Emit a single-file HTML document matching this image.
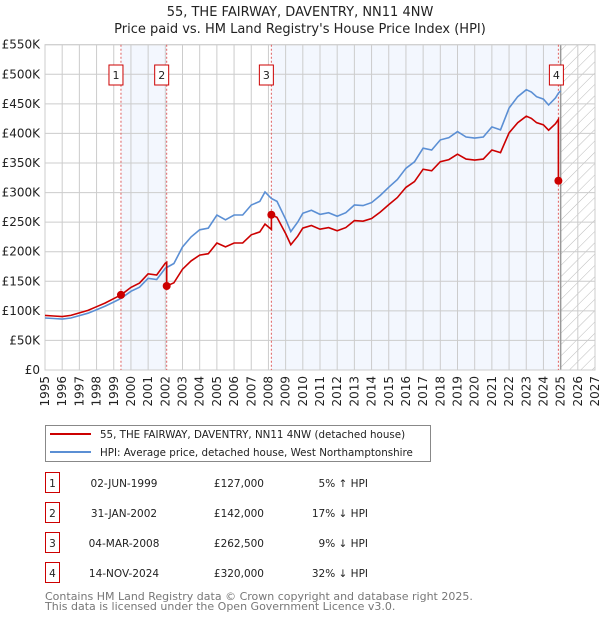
<!DOCTYPE html>
<html><head><meta charset="utf-8"><style>
body{margin:0;background:#fff;font-family:"DejaVu Sans","Liberation Sans",sans-serif;}
svg{display:block}
</style></head><body>
<svg id="chart" width="600" height="620" xmlns="http://www.w3.org/2000/svg" font-family="DejaVu Sans, Liberation Sans, sans-serif"></svg>
<script>
const hpiYears=[1995,1995.5,1996,1996.5,1997,1997.5,1998,1998.5,1999,1999.42,2000,2000.5,2001,2001.5,2002,2002.5,2003,2003.5,2004,2004.5,2005,2005.5,2006,2006.5,2007,2007.5,2007.8,2008.17,2008.5,2009,2009.3,2009.7,2010,2010.5,2011,2011.5,2012,2012.5,2013,2013.5,2014,2014.5,2015,2015.5,2016,2016.5,2017,2017.5,2018,2018.5,2019,2019.5,2020,2020.5,2021,2021.5,2022,2022.5,2023,2023.3,2023.6,2024,2024.3,2024.7,2024.87,2025];
const hpiValues=[88,87,86,88,92,96,102,108,115,121,133,140,155,153,172,180,208,225,237,240,262,254,262,262,279,285,301,290,285,255,234,250,265,270,263,266,260,266,279,278,283,295,309,322,341,352,375,372,389,393,403,394,392,394,411,406,443,462,474,470,462,458,448,460,468,472];
const saleLabels=["1","2","3","4"];
const saleYears=[1999.42,2002.08,2008.17,2024.87];
const salePrices=[127000,142000,262500,320000];
const saleDates=["02-JUN-1999","31-JAN-2002","04-MAR-2008","14-NOV-2024"];
const salePriceText=["£127,000","£142,000","£262,500","£320,000"];
const saleHpiText=["5% ↑ HPI","17% ↓ HPI","9% ↓ HPI","32% ↓ HPI"];
const yTicks=[0,50,100,150,200,250,300,350,400,450,500,550];

const svg=document.getElementById('chart');
const NS='http://www.w3.org/2000/svg';
const X0=45,X1=595,Y0=370,Y1=44.7,YMIN=1995,YMAX=2027,VMAX=550;
const xs=y=>X0+(y-YMIN)/(YMAX-YMIN)*(X1-X0);
const ys=v=>Y0-v/VMAX*(Y0-Y1);
function mk(tag,attrs,parent){const e=document.createElementNS(NS,tag);for(const k in attrs)e.setAttribute(k,attrs[k]);(parent||svg).appendChild(e);return e;}
function hpiAt(t){for(let i=0;i<hpiYears.length-1;i++){if(t>=hpiYears[i]&&t<=hpiYears[i+1]){const f=(t-hpiYears[i])/(hpiYears[i+1]-hpiYears[i]);return hpiValues[i]+f*(hpiValues[i+1]-hpiValues[i]);}}return hpiValues[hpiValues.length-1];}

let t=mk('text',{x:300,y:16,'text-anchor':'middle','font-size':13,fill:'#222'});t.textContent='55, THE FAIRWAY, DAVENTRY, NN11 4NW';

t=mk('text',{x:300,y:33,'text-anchor':'middle','font-size':13,fill:'#222'});t.textContent="Price paid vs. HM Land Registry's House Price Index (HPI)";


const defs=mk('defs',{});
const pat=mk('pattern',{id:'hatch',patternUnits:'userSpaceOnUse',width:8,height:8,patternTransform:'rotate(45)'},defs);
mk('line',{x1:0,y1:0,x2:0,y2:8,stroke:'#bbb','stroke-width':1},pat);

for(let i=0;i<saleYears.length-1;i+=2){
  const r=mk('rect',{x:xs(saleYears[i]),y:Y1,width:xs(saleYears[i+1])-xs(saleYears[i]),height:Y0-Y1,fill:'#f3f7fe'});
  
}
const fb=mk('rect',{x:xs(2025),y:Y1,width:X1-xs(2025),height:Y0-Y1,fill:'url(#hatch)'});


for(const v of yTicks){
  const l=mk('line',{x1:X0,x2:X1,y1:ys(v),y2:ys(v),stroke:'#ccc','stroke-width':1});
  
  const tx=mk('text',{x:X0-5,y:ys(v)+4,'text-anchor':'end','font-size':12,fill:'#222'});
  tx.textContent=v===0?'£0':'£'+v+'K';
  
}
for(let yr=YMIN;yr<=YMAX;yr++){
  const l=mk('line',{x1:xs(yr),x2:xs(yr),y1:Y1,y2:Y0,stroke:'#ccc','stroke-width':1});
  
  const tx=mk('text',{x:0,y:0,'text-anchor':'end','font-size':12,fill:'#222',transform:`translate(${xs(yr)+4},${Y0+6}) rotate(-90)`});
  tx.textContent=yr;
  
}
mk('line',{x1:xs(2025),x2:xs(2025),y1:Y1,y2:Y0,stroke:'#999','stroke-width':1.5});
const border=mk('rect',{x:X0,y:Y1,width:X1-X0,height:Y0-Y1,fill:'none',stroke:'#ccc'});


saleYears.forEach((sy,i)=>{
  const l=mk('line',{x1:xs(sy),x2:xs(sy),y1:Y1,y2:Y0,stroke:'#e06060','stroke-width':1,'stroke-dasharray':'2,2'});
  
  const g=mk('g',{});
  
  const bx=i===3?xs(sy)-9:xs(sy)-12;
  mk('rect',{x:bx,y:65,width:14,height:20,fill:'#fff',stroke:'#c00','stroke-width':1},g);
  const tx=mk('text',{x:bx+7,y:79,'text-anchor':'middle','font-size':11,fill:'#222'},g);tx.textContent=saleLabels[i];
});

let d='';hpiYears.forEach((y,i)=>{d+=(i?'L':'M')+xs(y).toFixed(1)+','+ys(hpiValues[i]).toFixed(1);});
const hl=mk('path',{d,fill:'none',stroke:'#5b8fd4','stroke-width':1.6});


const ratios=saleYears.map((sy,i)=>salePrices[i]/1000/hpiAt(sy));
const pts=[];
const allT=[...new Set([...hpiYears.filter(y=>y<=saleYears[3]),...saleYears])].sort((a,b)=>a-b);
for(const tt of allT){
  let k=-1;for(let i=0;i<saleYears.length;i++)if(tt>=saleYears[i])k=i;
  if(saleYears.includes(tt)&&k>0){pts.push([tt,hpiAt(tt)*ratios[k-1]]);}
  const r=k<0?ratios[0]:ratios[k];
  pts.push([tt,hpiAt(tt)*r]);
}
d='';pts.forEach((p,i)=>{d+=(i?'L':'M')+xs(p[0]).toFixed(1)+','+ys(p[1]).toFixed(1);});
const pl=mk('path',{d,fill:'none',stroke:'#cc0000','stroke-width':1.6});

saleYears.forEach((sy,i)=>{
  const c=mk('circle',{cx:xs(sy),cy:ys(salePrices[i]/1000),r:4,fill:'#cc0000'});
  
});

const lg=mk('g',{});
mk('rect',{x:45.5,y:425.5,width:385,height:36,fill:'#fff',stroke:'#888'},lg);
mk('line',{x1:50,x2:91,y1:434,y2:434,stroke:'#cc0000','stroke-width':2},lg);
mk('line',{x1:50,x2:91,y1:452,y2:452,stroke:'#5b8fd4','stroke-width':2},lg);
t=mk('text',{x:100,y:438,'font-size':10.3,fill:'#222'},lg);t.textContent='55, THE FAIRWAY, DAVENTRY, NN11 4NW (detached house)';

t=mk('text',{x:100,y:456,'font-size':10.3,fill:'#222'},lg);t.textContent='HPI: Average price, detached house, West Northamptonshire';


saleLabels.forEach((lab,i)=>{
  const cy=483+i*30;
  const g=mk('g',{});
  mk('rect',{x:45.5,y:cy-10.5,width:14,height:20,fill:'#fff',stroke:'#c00'},g);
  let a=mk('text',{x:52.5,y:cy+4,'text-anchor':'middle','font-size':10.5,fill:'#222'},g);a.textContent=lab;
  a=mk('text',{x:124,y:cy+4,'text-anchor':'middle','font-size':10.5,fill:'#222'},g);a.textContent=saleDates[i];
  a=mk('text',{x:264,y:cy+4,'text-anchor':'end','font-size':10.5,fill:'#222'},g);a.textContent=salePriceText[i];
  a=mk('text',{x:368,y:cy+4,'text-anchor':'end','font-size':10.5,fill:'#222'},g);a.textContent=saleHpiText[i];
});
t=mk('text',{x:45,y:600,'font-size':11,fill:'#777'});t.textContent='Contains HM Land Registry data © Crown copyright and database right 2025.';

t=mk('text',{x:45,y:610,'font-size':11,fill:'#777'});t.textContent='This data is licensed under the Open Government Licence v3.0.';

</script>
</body></html>
